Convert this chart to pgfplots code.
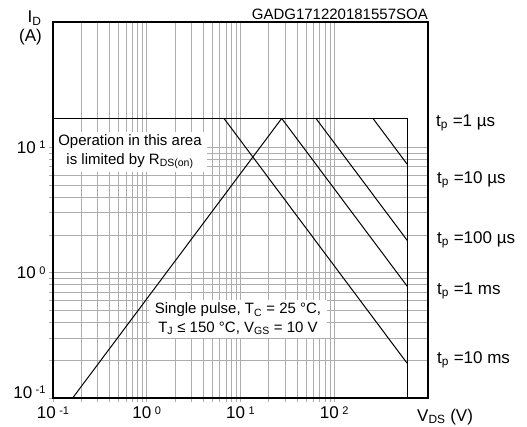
\documentclass[border=0pt]{standalone}
\usepackage{pgfplots}
\pgfplotsset{compat=1.18}
\usepackage{fontspec}
\setmainfont{Liberation Sans}
\newcommand{\tl}[1]{10\hspace{3.5bp}\raisebox{4.6bp}{\fontsize{11bp}{12bp}\selectfont #1}}
\newcommand{\fbig}{\fontsize{17bp}{20bp}\selectfont}
\newcommand{\fmid}{\fontsize{15bp}{18.5bp}\selectfont}
\begin{document}
\begin{tikzpicture}[x=1bp,y=1bp]
\useasboundingbox (0,0) rectangle (527,426);
\begin{axis}[
  at={(53bp,28bp)}, anchor=south west,
  width=375bp, height=376bp, scale only axis,
  xmode=log, ymode=log,
  xmin=0.1, xmax=1000, ymin=0.1, ymax=100,
  xtick={0.1,1,10,100}, ytick={0.1,1,10},
  xticklabels={\tl{-1},\tl{0},\tl{1},\tl{2}},
  yticklabels={\raisebox{6bp}[\height][\depth]{\tl{-1}},\tl{0},\tl{1}},
  grid=both,
  major grid style={black!32, line width=0.8bp},
  minor grid style={black!32, line width=0.8bp},
  axis line style={black, line width=1.1bp},
  tick style={black!32, line width=0.8bp},
  tick align=outside, tick pos=left,
  major tick length=4bp, minor tick length=4bp,
  ticklabel style={font=\fbig},
  xticklabel style={yshift=-1bp},
  yticklabel style={xshift=0bp},
]
\addplot[black, line width=1bp] coordinates {(0.1,17) (600,17) (600,0.1)};
% R_DS(on) limit
\addplot[black, line width=1bp] coordinates {(0.162,0.1) (27.5,17)};
% power limit lines
\addplot[black, line width=1bp] coordinates {(258.8,17) (600,7.33)};
\addplot[black, line width=1bp] coordinates {(63.8,17) (600,1.81)};
\addplot[black, line width=1bp] coordinates {(27.5,17) (600,0.779)};
\addplot[black, line width=1bp] coordinates {(6.67,17) (600,0.189)};
\end{axis}
% axis labels
\node[font=\fbig, anchor=base west, inner sep=0] at (27.5,403) {I\textsubscript{D}};
\node[font=\fbig, anchor=base, inner sep=0] at (30.5,384.5) {(A)};
\node[font=\fbig, anchor=base west, inner sep=0] at (417,5) {V\textsubscript{DS} (V)};
\node[font=\fmid, anchor=base east, inner sep=0] at (428,406) {GADG171220181557SOA};
% annotation boxes
\node[font=\fmid, fill=white, align=center, inner sep=0, minimum width=153bp, minimum height=40bp] at (130,274)
  {Operation in this area\\ is limited by R\textsubscript{DS(on)}};
\node[font=\fmid, fill=white, align=center, inner sep=0, minimum width=178bp, minimum height=38bp] at (238,107)
  {Single pulse, T\textsubscript{C} = 25 °C,\\ T\textsubscript{J} ≤ 150 °C, V\textsubscript{GS} = 10 V};
% pulse labels
\node[font=\fbig, anchor=west, inner sep=0] at (436,303) {t\textsubscript{p} =1 µs};
\node[font=\fbig, anchor=west, inner sep=0] at (437,246) {t\textsubscript{p} =10 µs};
\node[font=\fbig, anchor=west, inner sep=0] at (437,186) {t\textsubscript{p} =100 µs};
\node[font=\fbig, anchor=west, inner sep=0] at (437,135) {t\textsubscript{p} =1 ms};
\node[font=\fbig, anchor=west, inner sep=0] at (437,66) {t\textsubscript{p} =10 ms};
\end{tikzpicture}
\end{document}
